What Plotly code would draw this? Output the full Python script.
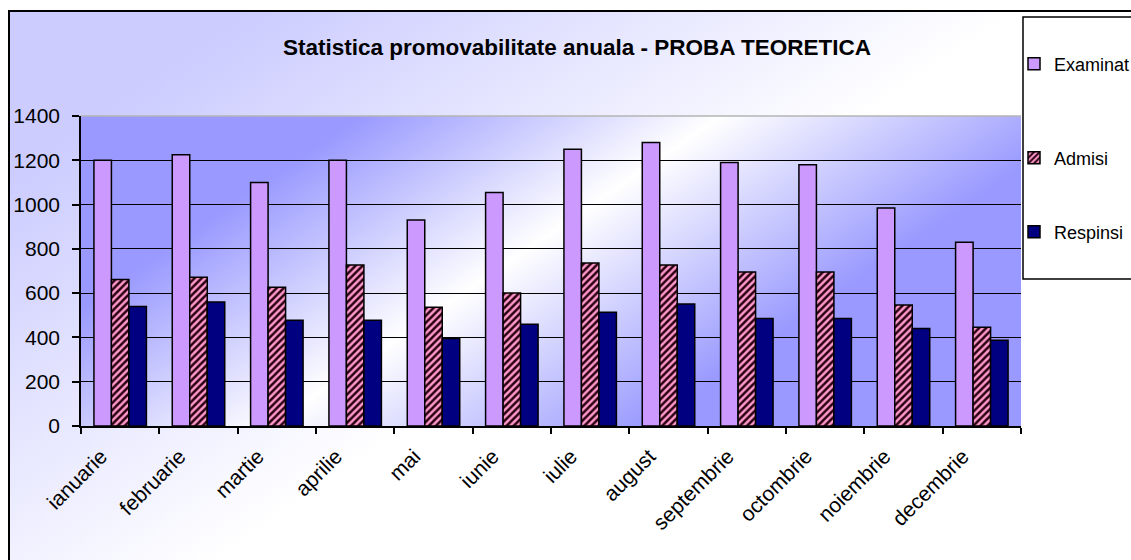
import base64
import plotly.graph_objects as go

# ---------------- data ----------------
luni = ["ianuarie", "februarie", "martie", "aprilie", "mai", "iunie",
        "iulie", "august", "septembrie", "octombrie", "noiembrie", "decembrie"]
examinati = [1200, 1225, 1100, 1200, 930, 1055, 1250, 1280, 1190, 1180, 985, 830]
admisi = [662, 672, 627, 727, 536, 601, 736, 727, 695, 695, 546, 446]
respinsi = [540, 560, 478, 478, 395, 460, 514, 551, 486, 486, 440, 387]
y_ticks = [0, 200, 400, 600, 800, 1000, 1200, 1400]
serii = ["Examinat", "Admisi", "Respinsi"]
titlu = "Statistica promovabilitate anuala - PROBA TEORETICA"

# ---------------- geometry (px) ----------------
W, H = 1131, 560
PL, PR, PT, PB = 81, 1021, 116, 426
PW, PH = PR - PL, PB - PT


def px_x(p):
    return (p - PL) / PW


def px_y(p):
    return (PB - p) / PH


def svg_uri(svg):
    return "data:image/svg+xml;base64," + base64.b64encode(svg.encode()).decode()


# plot area gradient: lavender - white - lavender (diagonal)
plot_svg = f'''<svg xmlns="http://www.w3.org/2000/svg" width="{PW}" height="{PH}" viewBox="0 0 {PW} {PH}" preserveAspectRatio="none">
<defs><linearGradient id="g" gradientUnits="userSpaceOnUse" x1="0" y1="0" x2="447" y2="650">
<stop offset="0" stop-color="#9999FF"/><stop offset="0.2" stop-color="#9999FF"/>
<stop offset="0.46" stop-color="#FFFFFF"/>
<stop offset="0.73" stop-color="#9999FF"/><stop offset="1" stop-color="#9999FF"/></linearGradient></defs>
<rect x="0" y="0" width="{PW}" height="{PH}" fill="url(#g)"/></svg>'''

# outer chart area gradient: lavender top-left fading to white
OX0, OY0, OX1, OY1 = 9, 11, 1200, 620
OW, OH = OX1 - OX0, OY1 - OY0
outer_svg = f'''<svg xmlns="http://www.w3.org/2000/svg" width="{OW}" height="{OH}" viewBox="0 0 {OW} {OH}" preserveAspectRatio="none">
<defs><linearGradient id="o" gradientUnits="userSpaceOnUse" x1="0" y1="0" x2="520" y2="760">
<stop offset="0" stop-color="#CCCCFF"/><stop offset="0.15" stop-color="#CCCCFF"/>
<stop offset="0.62" stop-color="#FFFFFF"/><stop offset="1" stop-color="#FFFFFF"/></linearGradient></defs>
<rect x="0" y="0" width="{OW}" height="{OH}" fill="url(#o)"/></svg>'''

FONT = "Liberation Sans, Arial, sans-serif"

fig = go.Figure()
fig.add_trace(go.Bar(
    name=serii[0], x=luni, y=examinati, legend="legend",
    marker=dict(color="#CC99FF", line=dict(color="black", width=1.5)),
))
fig.add_trace(go.Bar(
    name=serii[1], x=luni, y=admisi, legend="legend2",
    marker=dict(color="#FF99CC", line=dict(color="black", width=1.5),
                pattern=dict(shape="/", fgcolor="#2A0010", bgcolor="#FF99CC",
                             size=5, solidity=0.5, fillmode="replace")),
))
fig.add_trace(go.Bar(
    name=serii[2], x=luni, y=respinsi, legend="legend3",
    marker=dict(color="#000080", line=dict(color="black", width=1.5)),
))

leg_common = dict(bgcolor="rgba(0,0,0,0)", borderwidth=0, xanchor="left",
                  yanchor="middle", xref="container", yref="container",
                  font=dict(family=FONT, size=18, color="black"),
                  x=1014 / W, visible=True)

fig.update_layout(
    width=W, height=H,
    margin=dict(l=PL, r=W - PR, t=PT, b=H - PB, pad=0, autoexpand=False),
    paper_bgcolor="white",
    plot_bgcolor="rgba(0,0,0,0)",
    showlegend=True,
    barmode="group",
    bargap=0.33,
    bargroupgap=0,
    font=dict(family=FONT, size=21, color="black"),
    title=dict(text=f"<b>{titlu}</b>", x=px_x(577), xref="paper", xanchor="center",
               y=1 - 47 / H, yref="container", yanchor="middle",
               font=dict(family=FONT, size=22.5, color="black")),
    legend=dict(**leg_common, y=1 - 64 / H),
    legend2=dict(**leg_common, y=1 - 158 / H),
    legend3=dict(**leg_common, y=1 - 232 / H),
    xaxis=dict(type="category", categoryorder="array", categoryarray=luni,
               tickson="boundaries", ticks="outside", ticklen=6, tickwidth=1.5,
               tickcolor="black", showline=True, linecolor="black", linewidth=1.5,
               showgrid=False, tickangle=-45, ticklabelshift=-19,
               ticklabelstandoff=8, automargin=False,
               tickfont=dict(family=FONT, size=21, color="black")),
    yaxis=dict(range=[0, 1400], tickvals=y_ticks, ticks="outside", ticklen=7,
               tickwidth=1.5, tickcolor="black", showline=True, linecolor="black",
               linewidth=1.5, showgrid=True, gridcolor="black", gridwidth=1,
               zeroline=False, ticklabelstandoff=8, automargin=False,
               tickfont=dict(family=FONT, size=21, color="black")),
    images=[
        dict(source=svg_uri(outer_svg), xref="paper", yref="paper",
             x=px_x(OX0), y=px_y(OY0), sizex=OW / PW, sizey=OH / PH,
             xanchor="left", yanchor="top", sizing="stretch", layer="below"),
        dict(source=svg_uri(plot_svg), xref="paper", yref="paper",
             x=0, y=1, sizex=1, sizey=1, xanchor="left", yanchor="top",
             sizing="stretch", layer="below"),
    ],
    shapes=[
        # outer chart frame
        dict(type="rect", xref="paper", yref="paper", x0=px_x(OX0), y0=px_y(OY0),
             x1=px_x(1300), y1=px_y(700), line=dict(color="black", width=2),
             fillcolor="rgba(0,0,0,0)", layer="above"),
        # legend box
        dict(type="rect", xref="paper", yref="paper", x0=px_x(1023), y0=px_y(17),
             x1=px_x(1300), y1=px_y(279), line=dict(color="black", width=1.5),
             fillcolor="white", layer="below"),
        # top edge of the plot area
        dict(type="line", xref="paper", yref="paper", x0=0, x1=1, y0=1, y1=1,
             line=dict(color="#B4B4B4", width=1.5), layer="above"),
    ],
)

fig.write_html("out.html", config={"displayModeBar": False},
               post_script="document.body.style.margin='0';document.body.style.overflow='hidden';")
